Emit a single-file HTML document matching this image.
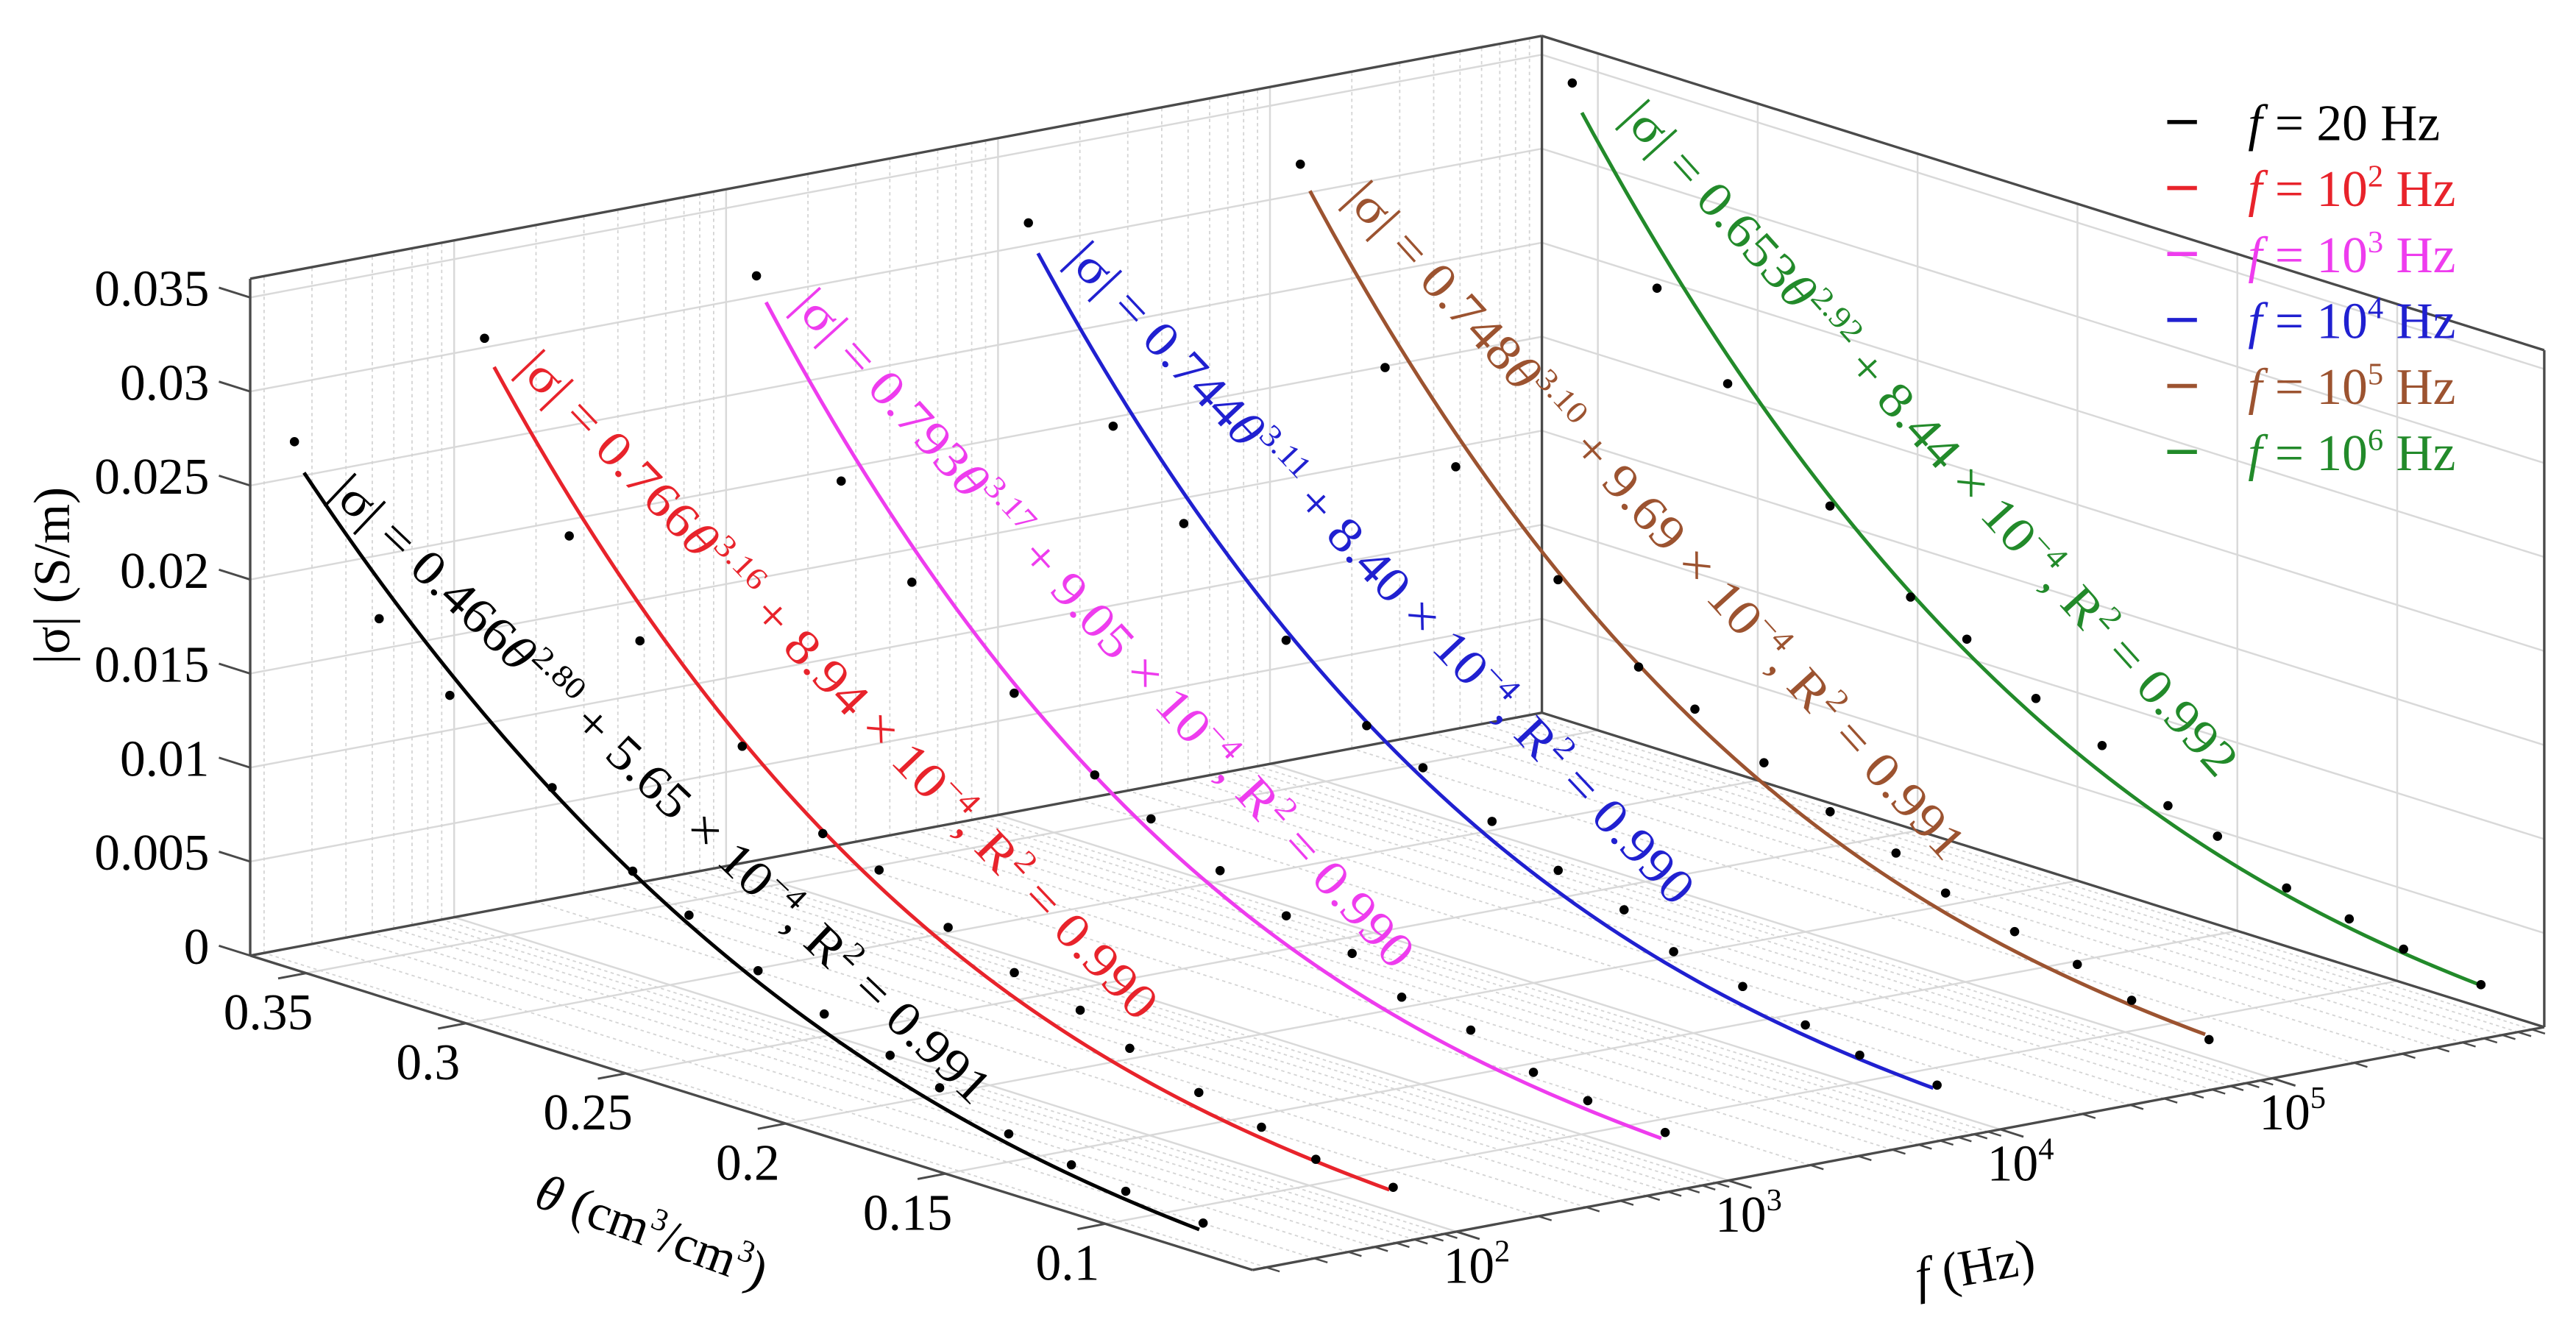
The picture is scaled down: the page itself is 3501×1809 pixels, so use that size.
<!DOCTYPE html>
<html><head><meta charset="utf-8"><title>3D conductivity chart</title>
<style>
html,body{margin:0;padding:0;background:#fff;}
svg{display:block;font-family:"Liberation Serif","DejaVu Serif",serif;}
</style></head>
<body>
<svg id="chart" width="3501" height="1809" viewBox="0 0 1563 807" preserveAspectRatio="none" xmlns="http://www.w3.org/2000/svg">
<g id="grid"></g>
<g id="box"></g>
<g id="ticks"></g>
<g id="series"></g>
<g id="eqs"></g>
<text x="0" y="0" font-size="31" text-anchor="middle" transform="translate(42,349) rotate(-90)">|σ| (S/m)</text>
<text x="0" y="0" font-size="31" text-anchor="middle" transform="translate(392,756) rotate(20)"><tspan font-style="italic">θ</tspan> (cm<tspan font-size="19" dy="-12">3</tspan><tspan dy="12">/cm</tspan><tspan font-size="19" dy="-12">3</tspan><tspan dy="12">)</tspan></text>
<text x="0" y="0" font-size="31" text-anchor="middle" transform="translate(1200,778) rotate(-10)"><tspan font-style="italic">f</tspan> (Hz)</text>
<g id="legend"></g>
</svg>
<script>
// ---- data ----
const seriesNames = ["f = 20 Hz","f = 10^2 Hz","f = 10^3 Hz","f = 10^4 Hz","f = 10^5 Hz","f = 10^6 Hz"];
const freqLog = [1.301, 2, 3, 4, 5, 6];
const thetaValues = [0.358,0.3315,0.3094,0.2774,0.2522,0.2346,0.213,0.1923,0.1717,0.1562,0.1346,0.115,0.098,0.0738];
const sigma20 = [0.0277,0.0197,0.0168,0.0136,0.0105,0.0091,0.0073,0.0061,0.0050,0.0041,0.0028,0.0022,0.0017,0.0013];
const sigma1e2 = [0.0313,0.0222,0.0178,0.0139,0.0106,0.0096,0.0077,0.0064,0.0055,0.0043,0.0031,0.0023,0.0015,0.0013];
const sigma1e3 = [0.0319,0.0224,0.0182,0.0140,0.0110,0.0096,0.0080,0.0067,0.0058,0.0043,0.0037,0.0025,0.0019,0.0015];
const sigma1e4 = [0.0320,0.0226,0.0186,0.0141,0.0109,0.0096,0.0079,0.0064,0.0054,0.0040,0.0033,0.0023,0.0016,0.0013];
const sigma1e5 = [0.0324,0.0230,0.0189,0.0146,0.0113,0.0100,0.0083,0.0068,0.0057,0.0044,0.0035,0.0028,0.0018,0.0010];
const sigma1e6 = [0.0340,0.0245,0.0206,0.0158,0.0123,0.0110,0.0090,0.0076,0.0055,0.0047,0.0031,0.0025,0.0018,0.0012];
const fitA = [0.466,0.766,0.793,0.744,0.748,0.653];
const fitB = [2.80,3.16,3.17,3.11,3.10,2.92];
const fitC = [5.65e-4,8.94e-4,9.05e-4,8.40e-4,9.69e-4,8.44e-4];
const r2Values = ["0.991","0.990","0.990","0.990","0.991","0.992"];
const zTicks = [0,0.005,0.01,0.015,0.02,0.025,0.03,0.035];
const zTickLabels = ["0","0.005","0.01","0.015","0.02","0.025","0.03","0.035"];
const thetaTicks = [0.1,0.15,0.2,0.25,0.3,0.35];
const thetaTickLabels = ["0.1","0.15","0.2","0.25","0.3","0.35"];
const fDecades = [2,3,4,5];
const fTickExp = ["2","3","4","5"];

const allSigma = [sigma20,sigma1e2,sigma1e3,sigma1e4,sigma1e5,sigma1e6];
const colors = ["#000000","#e8232b","#ee3cee","#2020d0","#9c5330","#228a2a"];
const supExp = ["","2","3","4","5","6"];
const labelPos = [[199,300,43.5,539],[313,224,46.4,547],[480,186,47.8,544],[646,158,46.7,539],[815,121,47.8,543],[983,72,47.9,540]];

// ---- axes / projection ----
const TMIN=0.054, TMAX=0.3675, LMIN=1.25, LMAX=6.0, ZMAX=0.036;
function px(t,l,z){return 760-(t-TMIN)*1940+(l-LMIN)*165;}
function py(t,l,z){return 770-(t-TMIN)*608-(l-LMIN)*31-z*11400;}
const NS="http://www.w3.org/2000/svg";
function el(tag,attrs,parent){const e=document.createElementNS(NS,tag);for(const k in attrs)e.setAttribute(k,attrs[k]);parent.appendChild(e);return e;}
function seg(p,a,b,style,name){
  const e=el('line',{x1:px(...a),y1:py(...a),x2:px(...b),y2:py(...b)},p);
  
  
  for(const k in style)e.setAttribute(k,style[k]);
  return e;
}
const grid=document.getElementById('grid'), box=document.getElementById('box'), ticks=document.getElementById('ticks');
const major={stroke:'#d9d9d9','stroke-width':1.1};
const minor={stroke:'#d4d4d4','stroke-width':0.8,'stroke-dasharray':'2,2'};
const minorLogs=[];
for(let d=1;d<6;d++){for(let k=2;k<=9;k++){const v=d+Math.log10(k);if(v>LMIN&&v<LMAX)minorLogs.push(v);}}
thetaTicks.forEach(t=>seg(grid,[t,LMIN,0],[t,LMAX,0],major,'floor-gridline'));
fDecades.forEach(l=>seg(grid,[TMIN,l,0],[TMAX,l,0],major,'floor-gridline'));
minorLogs.forEach(l=>seg(grid,[TMIN,l,0],[TMAX,l,0],minor,'floor-minor-gridline'));
zTicks.forEach(z=>seg(grid,[TMAX,LMIN,z],[TMAX,LMAX,z],major,'back-wall-gridline'));
fDecades.forEach(l=>seg(grid,[TMAX,l,0],[TMAX,l,ZMAX],major,'back-wall-gridline'));
minorLogs.forEach(l=>seg(grid,[TMAX,l,0],[TMAX,l,ZMAX],minor,'back-wall-minor-gridline'));
zTicks.forEach(z=>seg(grid,[TMAX,LMAX,z],[TMIN,LMAX,z],major,'side-wall-gridline'));
thetaTicks.forEach(t=>seg(grid,[t,LMAX,0],[t,LMAX,ZMAX],major,'side-wall-gridline'));
const edge={stroke:'#4a4a4a','stroke-width':1.5};
seg(box,[TMAX,LMIN,0],[TMAX,LMIN,ZMAX],edge,'z-axis-line');
seg(box,[TMAX,LMIN,ZMAX],[TMAX,LMAX,ZMAX],edge,'box-edge');
seg(box,[TMAX,LMAX,0],[TMAX,LMAX,ZMAX],edge,'box-edge');
seg(box,[TMAX,LMAX,ZMAX],[TMIN,LMAX,ZMAX],edge,'box-edge');
seg(box,[TMIN,LMAX,0],[TMIN,LMAX,ZMAX],edge,'box-edge');
seg(box,[TMAX,LMIN,0],[TMIN,LMIN,0],edge,'theta-axis-line');
seg(box,[TMIN,LMIN,0],[TMIN,LMAX,0],edge,'f-axis-line');
seg(box,[TMAX,LMIN,0],[TMAX,LMAX,0],edge,'box-edge');
seg(box,[TMAX,LMAX,0],[TMIN,LMAX,0],edge,'box-edge');
zTicks.forEach((z,i)=>{
  const x=px(TMAX,LMIN,z), y=py(TMAX,LMIN,z);
  const t=el('line',{x1:x,y1:y,x2:x-19,y2:y-6,stroke:'#4a4a4a','stroke-width':1.3},ticks);
  
  
  const lb=el('text',{x:127,y:y-6+11,'font-size':31,'text-anchor':'end'},ticks);
  lb.textContent=zTickLabels[i];
  
  
});
thetaTicks.forEach((tv,i)=>{
  const x=px(tv,LMIN,0), y=py(tv,LMIN,0);
  const t=el('line',{x1:x,y1:y,x2:x-17,y2:y+3.2,stroke:'#4a4a4a','stroke-width':1.3},ticks);
  
  
  const lb=el('text',{x:x-23,y:y+34,'font-size':31,'text-anchor':'middle'},ticks);
  lb.textContent=thetaTickLabels[i];
  
  
});
fDecades.forEach((l,i)=>{
  const x=px(TMIN,l,0), y=py(TMIN,l,0);
  const t=el('line',{x1:x,y1:y,x2:x+14,y2:y+4.5,stroke:'#4a4a4a','stroke-width':1.3},ticks);
  
  
  const lb=el('text',{x:x-8,y:y+31,'font-size':31},ticks);
  
  
  lb.innerHTML='10<tspan font-size="19" dy="-13">'+fTickExp[i]+'</tspan>';
});
minorLogs.forEach(l=>{
  const x=px(TMIN,l,0), y=py(TMIN,l,0);
  const t=el('line',{x1:x,y1:y,x2:x+8,y2:y+2.5,stroke:'#4a4a4a','stroke-width':1.1},ticks);
  
  
});
const sg=document.getElementById('series');
freqLog.forEach((lf,s)=>{
  let d='';
  for(let k=0;k<=80;k++){
    const t=0.355-(0.355-0.075)*k/80;
    const z=fitA[s]*Math.pow(t,fitB[s])+fitC[s];
    d+=(k?'L':'M')+px(t,lf,z).toFixed(2)+','+py(t,lf,z).toFixed(2);
  }
  const p=el('path',{d:d,fill:'none',stroke:colors[s],'stroke-width':2.2},sg);
  
  
  allSigma[s].forEach((z,i)=>{
    const t=thetaValues[i];
    const c=el('circle',{cx:px(t,lf,z),cy:py(t,lf,z),r:2.8,fill:'#000'},sg);
    
    
  });
  const [lx,ly,ang,len]=labelPos[s];
  const tx=el('text',{x:0,y:0,'font-size':30,fill:colors[s],textLength:len,lengthAdjust:'spacingAndGlyphs',transform:'translate('+lx+','+ly+') rotate('+ang+')'},document.getElementById('eqs'));
  
  
  tx.innerHTML='|σ| = '+fitA[s].toFixed(3)+'<tspan font-style="italic">θ</tspan><tspan font-size="19" dy="-12">'+fitB[s].toFixed(2)+'</tspan><tspan dy="12"> + '+(fitC[s]*1e4).toFixed(2)+' × 10</tspan><tspan font-size="19" dy="-12">−4</tspan><tspan dy="12">, R</tspan><tspan font-size="19" dy="-12">2</tspan><tspan dy="12"> = '+r2Values[s]+'</tspan>';
});
const lg=document.getElementById('legend');
seriesNames.forEach((n,s)=>{
  const y=74+s*40;
  const ln=el('line',{x1:1315,y1:y,x2:1333,y2:y,stroke:colors[s],'stroke-width':2.5},lg);
  
  
  const tx=el('text',{x:1364,y:y+11,'font-size':31,fill:colors[s]},lg);
  
  
  tx.innerHTML = s===0 ? '<tspan font-style="italic">f</tspan> = 20  Hz'
    : '<tspan font-style="italic">f</tspan> = 10<tspan font-size="19" dy="-12">'+supExp[s]+'</tspan><tspan dy="12"> Hz</tspan>';
});
</script>
</body></html>
